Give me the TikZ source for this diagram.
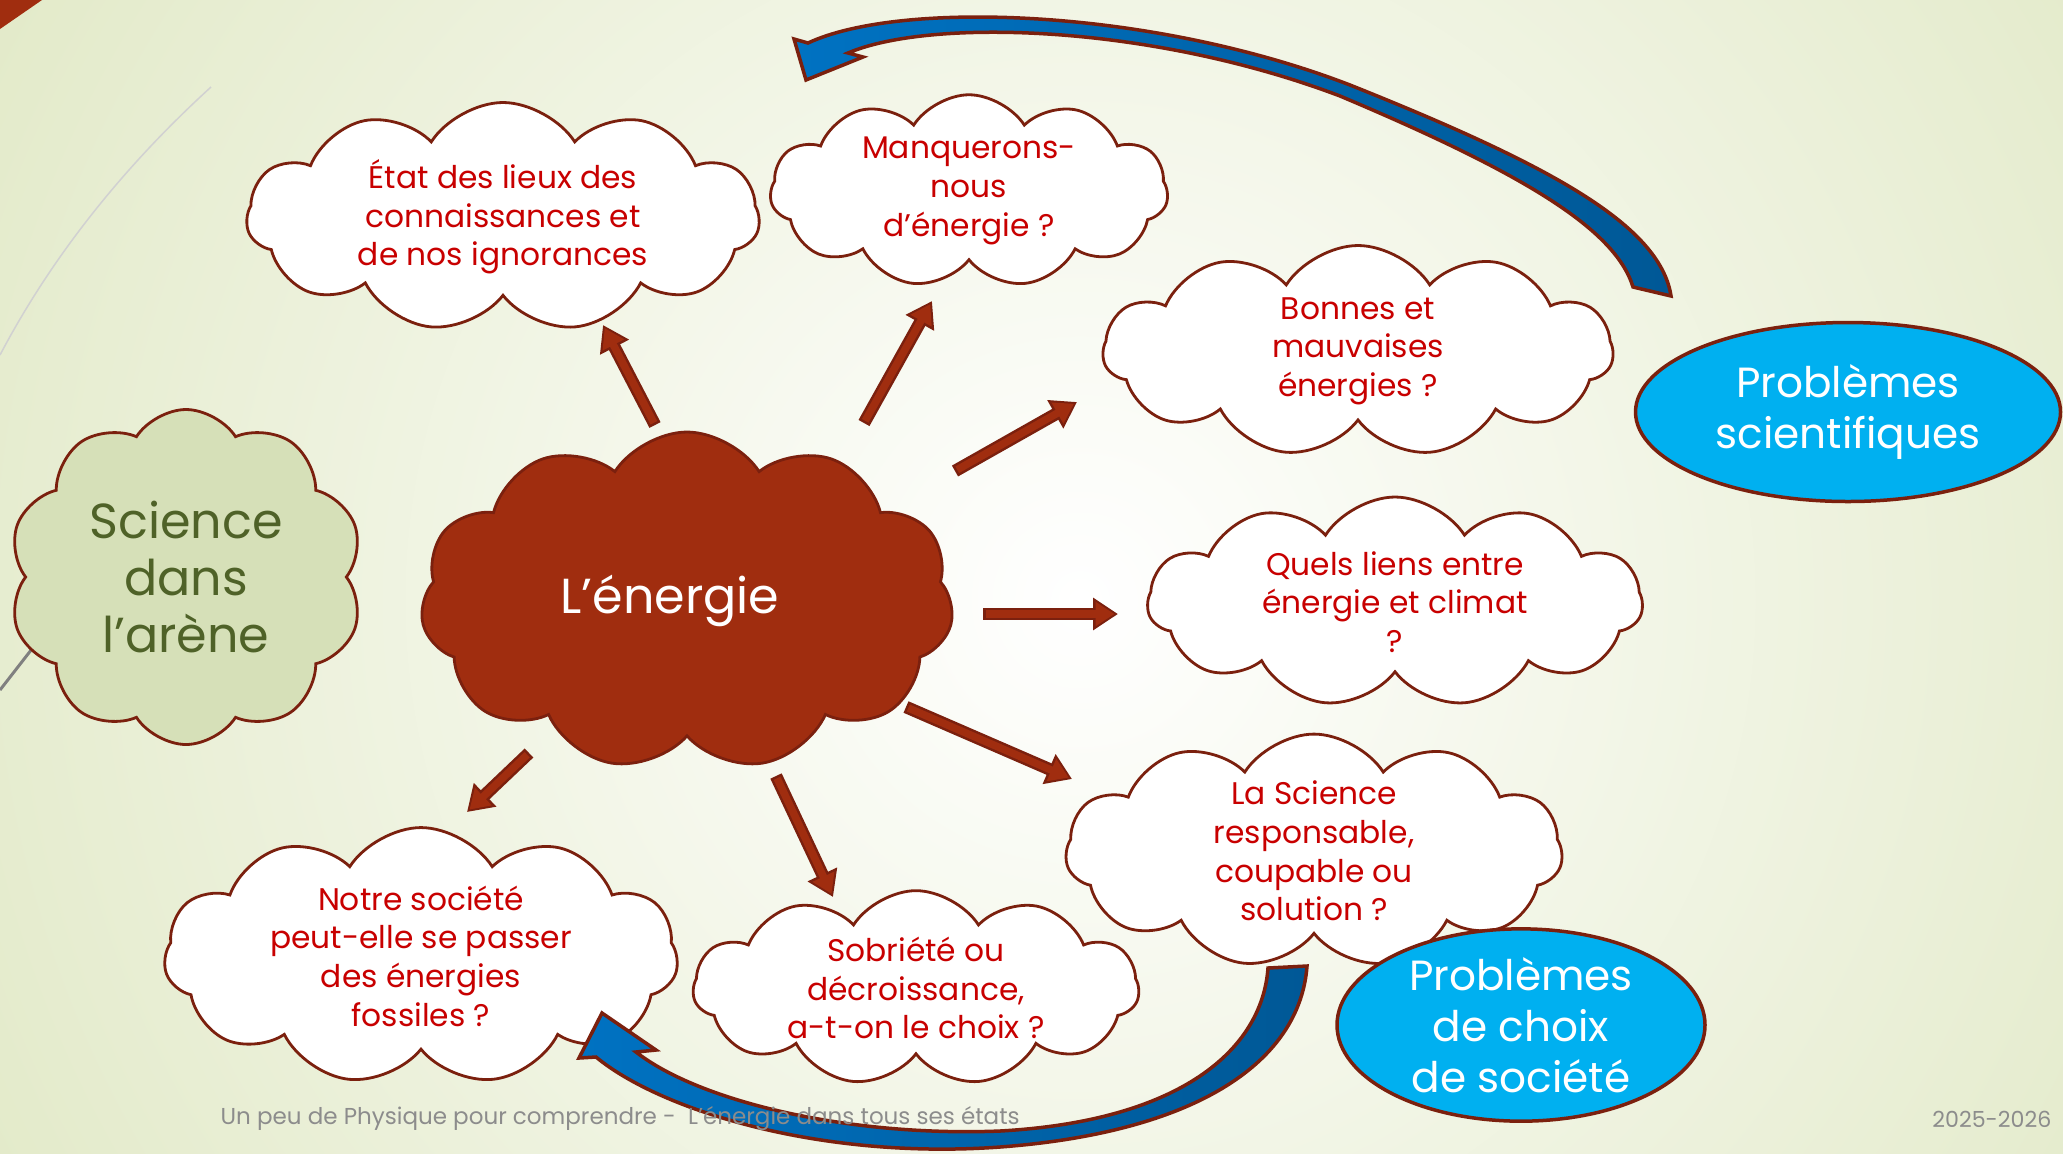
\documentclass[tikz,border=0pt]{standalone}
\usepackage{fontspec}
\setmainfont{Poppins}
\usetikzlibrary{shapes.symbols,shapes.geometric,arrows.meta}

\definecolor{bordeau}{RGB}{123,32,14}
\definecolor{rouille}{RGB}{160,45,15}
\definecolor{texterouge}{RGB}{200,0,0}
\definecolor{olive}{RGB}{79,98,40}
\definecolor{sauge}{RGB}{214,224,184}
\definecolor{ciel}{RGB}{0,176,240}
\definecolor{bleu}{RGB}{0,114,194}
\definecolor{bleufonce}{RGB}{0,88,150}
\definecolor{fond}{RGB}{224,232,196}
\definecolor{pied}{RGB}{140,140,140}

\tikzset{
  nuage/.style={cloud, cloud puffs=11, cloud puff arc=115, cloud ignores aspect,
    draw=bordeau, line width=0.28mm, fill=white, text=texterouge, align=center,
    font=\fontsize{8.9}{11}\selectfont, inner sep=0pt},
  bulle/.style={ellipse, draw=bordeau, line width=0.35mm, fill=ciel, text=white,
    align=center, font=\fontsize{12}{14.6}\selectfont, inner sep=0pt},
  fleche/.style={draw=bordeau, line width=1.25mm, -{Triangle[length=2.5mm,width=3.1mm]}},
  flechefond/.style={draw=rouille, line width=0.75mm, shorten <=0.25mm, shorten >=0.35mm,
    -{Triangle[length=1.9mm,width=2.3mm]}},
  courbe/.style={draw=bordeau, line width=0.35mm, left color=bleu, right color=bleufonce}
}

\begin{document}
\begin{tikzpicture}[x=0.1mm,y=-0.1mm]
\useasboundingbox (0,0) rectangle (2063,1153);

% fond
\fill[fond] (0,0) rectangle (2063,1153);
\begin{scope}
  \clip (0,0) rectangle (2063,1153);
  \shade[inner color=white, outer color=fond] (1080,600) circle (135mm);
\end{scope}
\fill[rouille] (0,0) -- (42,0) -- (0,29) -- cycle;
\draw[black!18, line width=0.15mm] (211,87) .. controls (120,170) and (50,260) .. (0,355);
\draw[black!50, line width=0.3mm] (0,690) -- (70,600);

% nuages
\node[nuage, fill=rouille, text=white, font=\fontsize{14}{16}\selectfont,
  minimum width=53.3mm, minimum height=33.8mm] (nrj) at (687,601) {L’énergie\hspace*{3.4mm}};
\node[nuage, fill=sauge, text=olive, cloud puffs=10, font=\fontsize{14}{16.3}\selectfont,
  minimum width=35.5mm, minimum height=33.5mm] (arene) at (186,577) {Science\\dans\\l’arène};

\node[nuage, minimum width=51.3mm, minimum height=22.9mm] (etat) at (503,217)
  {État des lieux des\\connaissances et\\de nos ignorances};
\node[nuage, minimum width=39.8mm, minimum height=18.4mm] (manque) at (969,191)
  {Manquerons-\\nous\\d’énergie ?};
\node[nuage, minimum width=51mm, minimum height=21.1mm] (bonnes) at (1358,351)
  {Bonnes et\\mauvaises\\énergies ?};
\node[nuage, minimum width=49.5mm, minimum height=21mm] (climat) at (1395,602)
  {Quels liens entre\\énergie et climat\\?};
\node[nuage, minimum width=49.7mm, minimum height=19.2mm] (respons) at (1314,851)
  {La Science\\responsable,\\coupable ou\\solution ?};
\node[nuage, minimum width=44.6mm, minimum height=15.1mm] (sobriete) at (916,988)
  {Sobriété ou\\décroissance,\\a-t-on le choix ?};
\node[nuage, minimum width=51.4mm, minimum height=21.4mm] (fossiles) at (421,956)
  {Notre société\\peut-elle se passer\\des énergies\\fossiles ?};

% bulles bleues
\node[bulle, minimum width=42.5mm, minimum height=17.9mm] (pbsci) at (1848,412)
  {Problèmes\\scientifiques};
\node[bulle, minimum width=36.8mm, minimum height=18.1mm] (pbsoc) at (1521,1025)
  {Problèmes\\de choix\\de société};

% fleches droites
\coordinate (a1) at (655,425); \coordinate (a2) at (603,325);
\coordinate (b1) at (864,423); \coordinate (b2) at (932,301);
\coordinate (c1) at (955,471); \coordinate (c2) at (1077,402);
\coordinate (d1) at (983,614); \coordinate (d2) at (1118,614);
\coordinate (e1) at (906,707); \coordinate (e2) at (1072,779);
\coordinate (f1) at (776,776); \coordinate (f2) at (833,897);
\coordinate (g1) at (529,753); \coordinate (g2) at (467,812);
\foreach \s/\e in {a1/a2,b1/b2,c1/c2,d1/d2,e1/e2,f1/f2,g1/g2}{
  \draw[fleche] (\s) -- (\e);
  \draw[flechefond] (\s) -- (\e);
}

% grandes fleches courbes
\path[courbe] (808,43) .. controls (900,0) and (1150,8) .. (1350,85)
  .. controls (1550,165) and (1660,225) .. (1671,296) -- (1633,287)
  .. controls (1615,228) and (1520,172) .. (1340,96)
  .. controls (1150,24) and (930,18) .. (848,53)
  -- (863,57) -- (806,80) -- (794,39) -- cycle;
\path[courbe] (1268,968) -- (1307,966) .. controls (1300,1060) and (1200,1132) .. (1000,1147)
  .. controls (820,1160) and (660,1110) .. (596,1057)
  -- (579,1058) -- (602,1013) -- (656,1050) -- (636,1052)
  .. controls (700,1102) and (850,1137) .. (1000,1131)
  .. controls (1180,1121) and (1262,1050) .. (1268,968) -- cycle;

% pied de page
\node[anchor=west, text=pied, font=\fontsize{6.55}{7}\selectfont, inner sep=0pt] (titre) at (220,1119)
  {Un peu de Physique pour comprendre -\ \ L’énergie dans tous ses états};
\node[anchor=east, text=pied, font=\fontsize{6.3}{7}\selectfont, inner sep=0pt] (annee) at (2052,1119)
  {2025-2026};
\end{tikzpicture}
\end{document}
